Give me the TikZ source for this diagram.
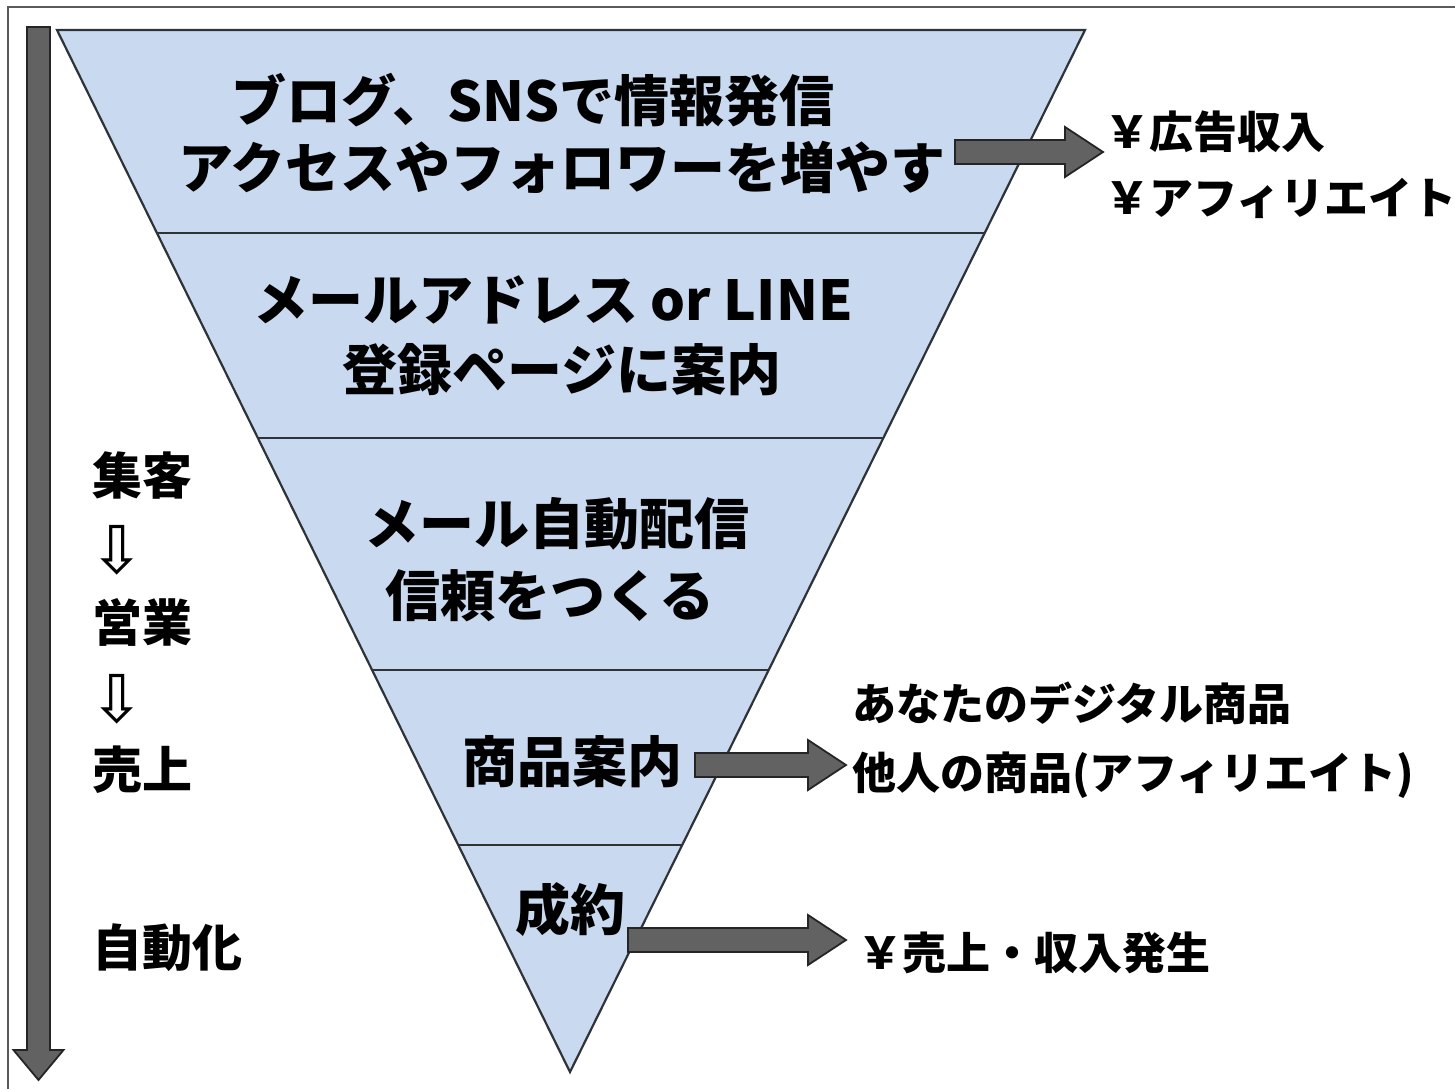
\documentclass[tikz,border=0pt]{standalone}
\usepackage{fontspec}
\newfontfamily\jp{Noto Sans CJK JP}
\newfontfamily\dejavu{DejaVu Sans}
\usetikzlibrary{calc}
\definecolor{funnelblue}{HTML}{C9DAF0}
\definecolor{edgegray}{HTML}{2E3338}
\definecolor{arrowgray}{HTML}{626262}
\definecolor{arrowedge}{HTML}{252525}
\definecolor{framegray}{HTML}{5A5A5A}
\newcommand\harrow[2]{\filldraw[blockarrow] ($(#1)+(0,-12)$) -- ($(#2)+(-38,-12)$) -- ($(#2)+(-38,-25)$) -- (#2) -- ($(#2)+(-38,25)$) -- ($(#2)+(-38,12)$) -- ($(#1)+(0,12)$) -- cycle;}
\begin{document}
\begin{tikzpicture}[x=1pt,y=-1pt,
  divider/.style={draw=edgegray,line width=2pt},
  funneledge/.style={draw=edgegray,line width=2.2pt,line join=miter},
  blockarrow/.style={fill=arrowgray,draw=arrowedge,line width=1.8pt,line join=miter},
  maintext/.style={font=\jp\bfseries\fontsize{55}{60}\selectfont,inner sep=0pt},
  sidetext/.style={font=\jp\bfseries\fontsize{44}{48}\selectfont,inner sep=0pt,anchor=west},
  steptext/.style={font=\jp\bfseries\fontsize{50}{55}\selectfont,inner sep=0pt,anchor=west},
  downsym/.style={font=\dejavu\fontsize{66}{70}\selectfont,inner sep=0pt}]
\useasboundingbox (0,0) rectangle (1455,1089);
\fill[white] (0,0) rectangle (1455,1089);
\draw[framegray,line width=2pt] (8,1089) -- (8,7) -- (1455,7);
% funnel
\coordinate (TL) at (57,30);
\coordinate (TR) at (1085,30);
\coordinate (AP) at (570,1072);
\fill[funnelblue] (TL) -- (TR) -- (AP) -- cycle;
\foreach \t/\n in {0.1948/1,0.3916/2,0.6142/3,0.7821/4} {
  \coordinate (dl\n) at ($(TL)!\t!(AP)$);
  \coordinate (dr\n) at ($(TR)!\t!(AP)$);
  \draw[divider] (dl\n) -- (dr\n);
}
\draw[funneledge] (TL) -- (TR) -- (AP) -- cycle;
% left big arrow
\coordinate (VS) at (38.5,27);
\coordinate (VE) at (38.5,1080);
\filldraw[blockarrow] ($(VS)+(-11.5,0)$) -- ($(VS)+(11.5,0)$) -- ($(VE)+(11.5,-30)$) -- ($(VE)+(25,-30)$) -- (VE) -- ($(VE)+(-25,-30)$) -- ($(VE)+(-11.5,-30)$) -- cycle;
% funnel texts
\node[maintext] (t1a) at (533,100) {ブログ、SNSで情報発信};
\node[maintext] (t1b) at (562,167) {アクセスやフォロワーを増やす};
\node[maintext] (t2a) at (553,300) {メールアドレス or LINE};
\node[maintext] (t2b) at (562,370) {登録ページに案内};
\node[maintext] (t3a) at (557,524) {メール自動配信};
\node[maintext] (t3b) at (550,596) {信頼をつくる};
\node[maintext] (t4) at (572,762) {商品案内};
\node[maintext] (t5) at (570,910) {成約};
% side texts
\node[sidetext] (r1a) at (1105,132) {￥広告収入};
\node[sidetext] (r1b) at (1105,198) {￥アフィリエイト};
\node[sidetext] (r2a) at (852,703) {あなたのデジタル商品};
\node[sidetext] (r2b) at (852,775) {他人の商品(アフィリエイト)};
\node[sidetext] (r3) at (858,953) {￥売上・収入発生};
% left steps
\node[steptext] (s1) at (92,475) {集客};
\node[downsym] (d1) at (117,550) {⇩};
\node[steptext] (s2) at (92,622) {営業};
\node[downsym] (d2) at (117,699) {⇩};
\node[steptext] (s3) at (92,770) {売上};
\node[steptext] (s4) at (92,948) {自動化};
% block arrows
\coordinate (a1s) at (955,152);
\coordinate (a1e) at (1103,152);
\coordinate (a2s) at (695,765);
\coordinate (a2e) at (846,765);
\coordinate (a3s) at (628,940);
\coordinate (a3e) at (846,940);
\harrow{a1s}{a1e}
\harrow{a2s}{a2e}
\harrow{a3s}{a3e}
\end{tikzpicture}
\end{document}
